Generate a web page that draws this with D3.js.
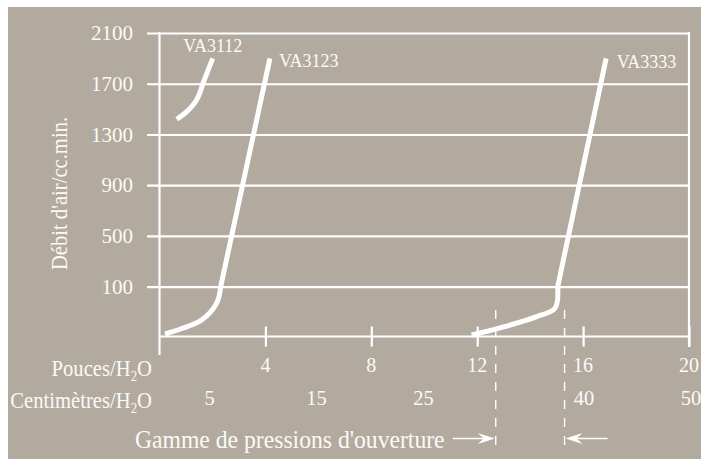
<!DOCTYPE html>
<html>
<head>
<meta charset="utf-8">
<script src="https://cdn.jsdelivr.net/npm/d3@7"></script>
<style>
  html, body { margin: 0; padding: 0; background: #ffffff; }
  svg { display: block; }
  text { font-family: "Liberation Serif", "Times New Roman", serif; fill: #fbfaf6; }
</style>
</head>
<body>
<svg id="chart" width="701" height="459"></svg>
<script>
// Axis ticks
const flowTicks = [100, 500, 900, 1300, 1700, 2100];   // cc/min
const inchTicks = [4, 8, 12, 16, 20];                  // inches of water
const cmTicks = [5, 15, 25, 40, 50];                   // centimetres of water

// Opening pressure range (inches of water)
const openingRange = [12.7, 15.3];

// Valve flow curves: [pressure (in H2O), flow (cc/min)]
const va3112 = [[0.65, 1420], [1.03, 1480], [1.40, 1572], [1.65, 1708], [2.01, 1900]];
const va3123 = [[0.21, 5], [0.84, 16], [1.59, 33], [2.16, 67], [2.31, 100], [4.17, 1900]];
const va3333 = [[11.79, 3], [13.24, 23], [14.25, 40], [14.94, 57], [15.04, 100], [16.87, 1900]];
const seriesNames = ["VA3112", "VA3123", "VA3333"];

// knee: index where the curved foot turns into the straight rise
const series = [
  { name: seriesNames[0], values: va3112, knee: 2, dx: 0, dy: -6, anchor: "middle" },
  { name: seriesNames[1], values: va3123, knee: 3, dx: 9, dy: 8.5, anchor: "start" },
  { name: seriesNames[2], values: va3333, knee: 3, dx: 10.5, dy: 10, anchor: "start" }
];

const svg = d3.select("#chart");
const BG = "#b2aa9f";
const LINE = "#ffffff";

svg.append("rect")
  .attr("x", 8).attr("y", 7)
  .attr("width", 693).attr("height", 452)
  .attr("fill", BG);

const x = d3.scaleLinear().domain([0, 20]).range([159.5, 689]);
// The lowest band (0-100) is expanded relative to the rest of the scale
const y = d3.scaleLinear().domain([0, 100, 2100]).range([336.5, 286.7, 33]);
const xcm = d3.scaleLinear().domain([0, 50]).range([156, 691]);

const plotLeft = x(0), plotRight = x(20), plotBase = y(0), plotTop = y(2100);

// Horizontal grid lines with their left tick stubs and labels
const gridX0 = 147;
const yAxis = d3.axisLeft(y)
  .tickValues(flowTicks)
  .tickSize(-(plotRight - gridX0))
  .tickPadding(14)
  .tickFormat(d3.format("d"));

const gy = svg.append("g")
  .attr("transform", `translate(${gridX0},0)`)
  .call(yAxis);
gy.select(".domain").remove();
gy.selectAll(".tick line").attr("stroke", LINE).attr("stroke-width", 2.2);
gy.selectAll(".tick text")
  .attr("fill", "#fbfaf6")
  .style("font-family", '"Liberation Serif", serif')
  .style("font-size", "21px");

// Frame: left axis, right border and baseline
svg.append("line")
  .attr("x1", plotLeft).attr("x2", plotLeft)
  .attr("y1", plotTop - 1).attr("y2", 355)
  .attr("stroke", LINE).attr("stroke-width", 2.2);
svg.append("line")
  .attr("x1", plotRight).attr("x2", plotRight)
  .attr("y1", plotTop - 1).attr("y2", 347)
  .attr("stroke", LINE).attr("stroke-width", 2.2);
svg.append("line")
  .attr("x1", plotLeft).attr("x2", plotRight)
  .attr("y1", plotBase).attr("y2", plotBase)
  .attr("stroke", LINE).attr("stroke-width", 2.2);

// Bottom ticks crossing the baseline
const xAxis = d3.axisBottom(x)
  .tickValues(inchTicks)
  .tickSize(20)
  .tickFormat("");
const gx = svg.append("g")
  .attr("transform", `translate(0,${plotBase - 10})`)
  .call(xAxis);
gx.select(".domain").remove();
gx.selectAll(".tick line").attr("stroke", LINE).attr("stroke-width", 2.2);

// Inch labels
svg.append("g").selectAll("text")
  .data(inchTicks)
  .join("text")
  .attr("x", d => x(d))
  .attr("y", 372)
  .attr("text-anchor", "middle")
  .style("font-size", "20px")
  .text(d => d);

// Centimetre labels
svg.append("g").selectAll("text")
  .data(cmTicks)
  .join("text")
  .attr("x", d => xcm(d))
  .attr("y", 405)
  .attr("text-anchor", "middle")
  .style("font-size", "20.5px")
  .text(d => d);

// Condensed serif label helper
function condensed(tx, ty, size, squeeze, anchor, rotate) {
  const g = svg.append("g")
    .attr("transform", `translate(${tx},${ty})` + (rotate ? ` rotate(${rotate})` : "") + ` scale(${squeeze},1)`);
  return g.append("text")
    .attr("x", 0).attr("y", 0)
    .attr("text-anchor", anchor)
    .style("font-size", size + "px");
}

function waterUnit(t, prefix) {
  t.append("tspan").text(prefix + "/H");
  t.append("tspan").attr("dy", 5).style("font-size", "15px").text("2");
  t.append("tspan").attr("dy", -5).text("O");
}

waterUnit(condensed(152, 375.5, 24, 0.86, "end"), "Pouces");
waterUnit(condensed(152, 408, 24, 0.86, "end"), "Centimètres");

condensed(66.7, 193.5, 24, 0.86, "middle", -90).text("Débit d'air/cc.min.");
condensed(135, 448, 26, 0.91, "start").text("Gamme de pressions d'ouverture");

// Opening pressure range markers
svg.append("g").selectAll("line")
  .data(openingRange)
  .join("line")
  .attr("x1", d => x(d)).attr("x2", d => x(d))
  .attr("y1", 310).attr("y2", 445)
  .attr("stroke", LINE)
  .attr("stroke-width", 1.4)
  .attr("stroke-dasharray", "9,9");

const arrowY = 438.5;
function arrow(tip, dir) {
  // dir = +1 points right, -1 points left
  svg.append("line")
    .attr("x1", tip - dir * 42).attr("x2", tip - dir * 8)
    .attr("y1", arrowY).attr("y2", arrowY)
    .attr("stroke", LINE).attr("stroke-width", 1.5);
  svg.append("path")
    .attr("d", `M${tip},${arrowY} L${tip - dir * 17},${arrowY - 5.5} L${tip - dir * 11},${arrowY} L${tip - dir * 17},${arrowY + 5.5} Z`)
    .attr("fill", LINE);
}
arrow(x(openingRange[0]) - 1, 1);
arrow(x(openingRange[1]) + 1, -1);

// Flow curves: a smooth foot (rounded through the knee) followed by a straight rise
const footLine = d3.line()
  .x(d => x(d[0]))
  .y(d => y(d[1]))
  .curve(d3.curveCatmullRom.alpha(0.5));
const riseLine = d3.line()
  .x(d => x(d[0]))
  .y(d => y(d[1]));

const gs = svg.append("g");
gs.selectAll("path")
  .data(series)
  .join("path")
  .attr("d", d => footLine(d.values.slice(0, d.knee + 2)) + riseLine(d.values.slice(d.knee + 1)).replace(/^M/, "L"))
  .attr("fill", "none")
  .attr("stroke", LINE)
  .attr("stroke-width", 5)
  .attr("stroke-linejoin", "round");

gs.selectAll("text")
  .data(series)
  .join("text")
  .attr("x", d => x(d.values[d.values.length - 1][0]) + d.dx)
  .attr("y", d => y(d.values[d.values.length - 1][1]) + d.dy)
  .attr("text-anchor", d => d.anchor)
  .style("font-size", "18px")
  .text(d => d.name);
</script>
</body>
</html>
